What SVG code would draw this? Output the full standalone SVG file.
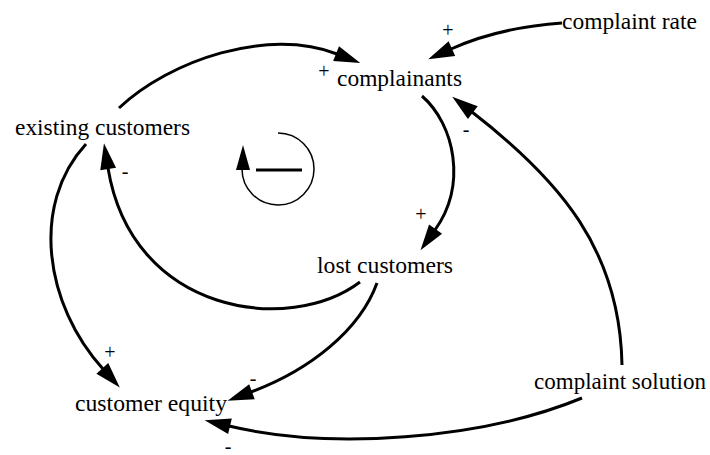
<svg xmlns="http://www.w3.org/2000/svg" width="710" height="455" viewBox="0 0 710 455">
<style>
.lnk{fill:none;stroke:#000;stroke-width:3;marker-end:url(#ah)}
</style>
<defs>
<marker id="ah" markerUnits="userSpaceOnUse" markerWidth="30" markerHeight="20" refX="1" refY="8" orient="auto" overflow="visible">
<path d="M0,0 L26,8 L0,16 z" fill="#000"/>
</marker>
</defs>
<rect width="710" height="455" fill="#fff"/>
<g id="connectors">
<path class="lnk" d="M119,108 C170,60 268,27 337,54"/>
<path class="lnk" d="M562,23 C520,26 482,35 451,49"/>
<path class="lnk" d="M422,96 C455,125 467,185 435,230"/>
<path class="lnk" d="M360,282 C290,335 132,315 108,168"/>
<path class="lnk" d="M86,144 C30,205 45,305 103,369"/>
<path class="lnk" d="M377,283 C360,330 310,370 251,392"/>
<path class="lnk" d="M622,365 C620,250 560,180 472,112"/>
<path class="lnk" d="M582,398 C480,440 330,450 229,426"/>
</g>
<g id="polarities" font-family="Liberation Serif, DejaVu Serif, serif" font-size="20" text-anchor="middle" fill="#000">
<text x="324" y="78">+</text>
<text x="448" y="37">+</text>
<text x="466" y="136">-</text>
<text x="421" y="221">+</text>
<text x="125" y="178">-</text>
<text x="110" y="359">+</text>
<text x="253" y="385">-</text>
<text x="228" y="453">-</text>
</g>
<g id="loop">
<path d="M278,133 A36,36 0 1 1 242,169" fill="none" stroke="#000" stroke-width="1.5"/>
<path d="M243,145 L250,170 L236,170 z" fill="#000"/>
<line x1="256" y1="170" x2="302" y2="170" stroke="#000" stroke-width="3"/>
</g>
<g font-family="Liberation Serif, DejaVu Serif, serif" font-size="24" fill="#000">
<g id="complaint-rate"><text x="562" y="29" textLength="135" lengthAdjust="spacingAndGlyphs">complaint rate</text></g>
<g id="complainants"><text x="337" y="86" textLength="125" lengthAdjust="spacingAndGlyphs">complainants</text></g>
<g id="existing-customers"><text x="15" y="135" textLength="175" lengthAdjust="spacingAndGlyphs">existing customers</text></g>
<g id="lost-customers"><text x="317" y="273" textLength="136" lengthAdjust="spacingAndGlyphs">lost customers</text></g>
<g id="customer-equity"><text x="75" y="411" textLength="152" lengthAdjust="spacingAndGlyphs">customer equity</text></g>
<g id="complaint-solution"><text x="534" y="389" textLength="172" lengthAdjust="spacingAndGlyphs">complaint solution</text></g>
</g>
</svg>
